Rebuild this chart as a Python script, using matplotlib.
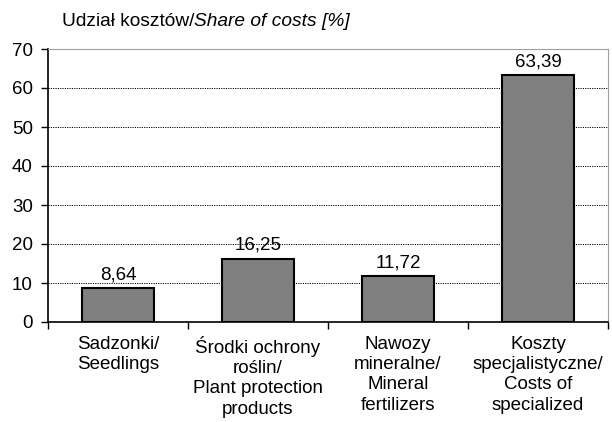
import matplotlib
matplotlib.use("Agg")
import matplotlib.pyplot as plt
import numpy as np

categories = ["Sadzonki/\nSeedlings",
              "Środki ochrony\nroślin/\nPlant protection\nproducts",
              "Nawozy\nmineralne/\nMineral\nfertilizers",
              "Koszty\nspecjalistyczne/\nCosts of\nspecialized"]
values = [8.64, 16.25, 11.72, 63.39]
value_labels = ["8,64", "16,25", "11,72", "63,39"]
yticks = [0, 10, 20, 30, 40, 50, 60, 70]

plt.rcParams['font.family'] = ['Liberation Sans', 'DejaVu Sans']

W, H = 612, 422
fig = plt.figure(figsize=(W/100, H/100), dpi=100)
x0, x1, y0, y1 = 48, 608, 49, 322
ax = fig.add_axes([x0/W, 1 - y1/H, (x1-x0)/W, (y1-y0)/H])

x = np.arange(len(values))
ax.bar(x, values, width=0.52, color="#808080", edgecolor="black", linewidth=1.5, zorder=3)
for xi, v, lab in zip(x, values, value_labels):
    ax.text(xi, v + 1.2, lab, ha="center", va="bottom", fontsize=13.5)

ax.set_xlim(-0.5, len(values) - 0.5)
ax.set_ylim(0, 70)
ax.set_yticks(yticks)
ax.set_yticklabels([str(t) for t in yticks], fontsize=13.5)
for t in yticks[1:-1]:
    ax.axhline(t, color="black", linestyle=(0, (1.2, 1.2)), linewidth=0.7, zorder=1)

ax.set_xticks(np.arange(len(values) + 1) - 0.5)
ax.set_xticklabels([])
ax.set_xticks(x, minor=True)
ax.set_xticklabels(categories, minor=True, fontsize=13.5, linespacing=1.25, va="top")
ax.tick_params(axis="x", which="minor", length=0, pad=10)
ax.tick_params(axis="x", which="major", length=5, direction="out", width=1)
ax.tick_params(axis="y", length=5, direction="out", width=1, pad=6)

ax.spines["left"].set_color("black")
ax.spines["bottom"].set_color("black")
ax.spines["left"].set_linewidth(1.2)
ax.spines["bottom"].set_linewidth(1.2)
ax.spines["top"].set_color("#a0a0a0")
ax.spines["right"].set_color("#a0a0a0")

fig.text(62/W, 1 - 22/H, "Udział kosztów/", fontsize=13.8, va="center", ha="left")
fig.canvas.draw()
t1 = fig.texts[0]
bb = t1.get_window_extent()
fig.text(bb.x1/W, 1 - 22/H, "Share of costs [%]", fontsize=13.8, va="center", ha="left", style="italic")

fig.savefig("out.png", dpi=100)
